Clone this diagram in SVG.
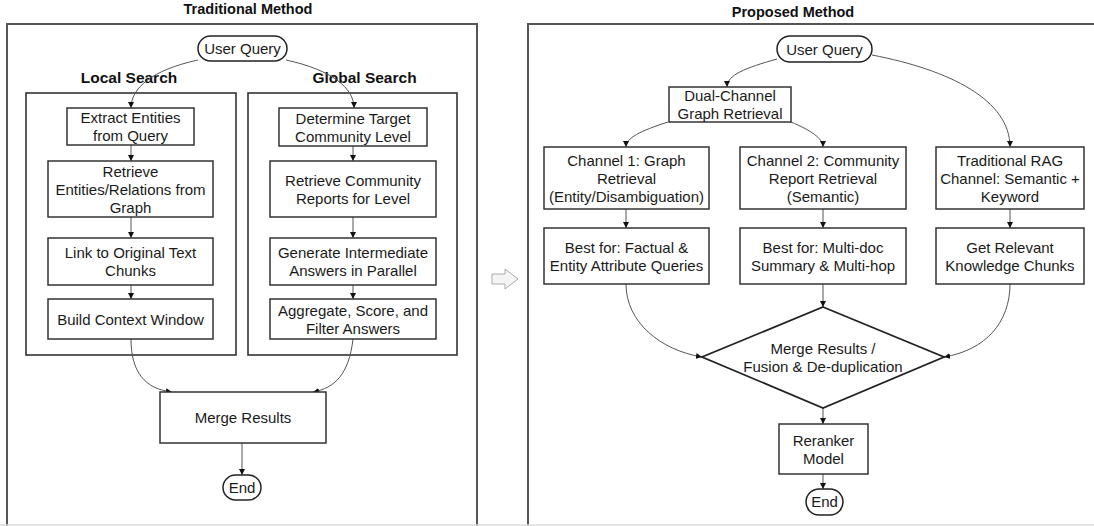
<svg xmlns="http://www.w3.org/2000/svg" width="1094" height="526" viewBox="0 0 1094 526">
<defs>
<marker id="ah" viewBox="0 0 10 10" refX="10" refY="5" markerWidth="6" markerHeight="6" markerUnits="userSpaceOnUse" orient="auto">
<path d="M0,0 L10,5 L0,10 z" fill="#111"/>
</marker>
<style>
.frame{fill:none;stroke:#555;stroke-width:2}
.sub{fill:none;stroke:#333;stroke-width:1.6}
.box{fill:#fff;stroke:#333;stroke-width:1.5}
.pill{fill:#fff;stroke:#222;stroke-width:1.5}
.dia{fill:#fff;stroke:#222;stroke-width:1.8}
.t{font-family:"Liberation Sans",Arial,sans-serif;font-size:15px;fill:#1a1a1a;text-anchor:middle}
.h{font-family:"Liberation Sans",Arial,sans-serif;font-weight:bold;font-size:14.5px;fill:#111;text-anchor:middle}
.h2{font-family:"Liberation Sans",Arial,sans-serif;font-weight:bold;font-size:15.5px;fill:#111;text-anchor:middle}
.c{fill:none;stroke:#555;stroke-width:1;marker-end:url(#ah)}
</style>
</defs>
<rect width="1094" height="526" fill="#fff"/>

<g id="frames">
<rect class="frame" x="7" y="24" width="470" height="520"/>
<rect class="frame" x="528" y="24" width="580" height="520"/>
<line x1="0" y1="525" x2="1094" y2="525" stroke="#ddd" stroke-width="1.5"/>
<text class="h" x="248" y="14">Traditional Method</text>
<text class="h" x="793" y="17">Proposed Method</text>
</g>

<g id="transition-arrow">
<path d="M492,274 H505 V269 L518,279 L505,289 V284 H492 Z" fill="#f4f4f4" stroke="#aaa" stroke-width="1"/>
</g>

<g id="local-search">
<rect class="sub" x="26" y="93" width="210" height="262"/>
<text class="h2" x="129" y="83">Local Search</text>
</g>
<g id="global-search">
<rect class="sub" x="248" y="93" width="209" height="262"/>
<text class="h2" x="364.5" y="83">Global Search</text>
</g>

<g id="connectors">
<path class="c" d="M198,60 C152,70 131,88 131,108"/>
<path class="c" d="M286,60 C332,70 354,88 354,108"/>
<path class="c" d="M131,145 V161"/>
<path class="c" d="M131,217 V238"/>
<path class="c" d="M131,285 V299"/>
<path class="c" d="M353,146 V161"/>
<path class="c" d="M353,217 V238"/>
<path class="c" d="M353,285 V299"/>
<path class="c" d="M131,339 C131,372 145,389 172,392"/>
<path class="c" d="M353,339 C349,374 335,388 313,392"/>
<path class="c" d="M242,443 V475"/>

<path class="c" d="M777,59 C745,68 727,75 727,87"/>
<path class="c" d="M668,122 C640,131 626,138 626,147"/>
<path class="c" d="M791,122 C810,130 823,138 823,147"/>
<path class="c" d="M872,55 C950,70 1010,100 1010,147"/>
<path class="c" d="M626,209 V228"/>
<path class="c" d="M823,209 V228"/>
<path class="c" d="M1010,209 V228"/>
<path class="c" d="M626,284 C626,322 660,350 702,357"/>
<path class="c" d="M823,284 V307"/>
<path class="c" d="M1010,284 C1010,322 986,350 944,357"/>
<path class="c" d="M823,408 V424"/>
<path class="c" d="M823,474 V489"/>
</g>

<g id="user-query-left">
<rect class="pill" x="198" y="36" width="89" height="25" rx="12.5"/>
<text class="t" x="242.5" y="54">User Query</text>
</g>
<g id="extract-entities">
<rect class="box" x="67" y="108" width="127" height="37"/>
<text class="t" x="130.5" y="123">Extract Entities</text>
<text class="t" x="130.5" y="141">from Query</text>
</g>
<g id="retrieve-entities">
<rect class="box" x="48" y="161" width="165" height="56"/>
<text class="t" x="130.5" y="177">Retrieve</text>
<text class="t" x="130.5" y="195">Entities/Relations from</text>
<text class="t" x="130.5" y="213">Graph</text>
</g>
<g id="link-text">
<rect class="box" x="48" y="238" width="165" height="47"/>
<text class="t" x="130.5" y="258">Link to Original Text</text>
<text class="t" x="130.5" y="276">Chunks</text>
</g>
<g id="build-context">
<rect class="box" x="48" y="299" width="165" height="40"/>
<text class="t" x="130.5" y="324.5">Build Context Window</text>
</g>
<g id="determine-level">
<rect class="box" x="279" y="108" width="148" height="38"/>
<text class="t" x="353" y="123.5">Determine Target</text>
<text class="t" x="353" y="141.5">Community Level</text>
</g>
<g id="retrieve-reports">
<rect class="box" x="270" y="161" width="166" height="56"/>
<text class="t" x="353" y="185.5">Retrieve Community</text>
<text class="t" x="353" y="203.5">Reports for Level</text>
</g>
<g id="generate-answers">
<rect class="box" x="270" y="238" width="166" height="47"/>
<text class="t" x="353" y="258">Generate Intermediate</text>
<text class="t" x="353" y="276">Answers in Parallel</text>
</g>
<g id="aggregate-answers">
<rect class="box" x="270" y="299" width="166" height="40"/>
<text class="t" x="353" y="315.5">Aggregate, Score, and</text>
<text class="t" x="353" y="333.5">Filter Answers</text>
</g>
<g id="merge-left">
<rect class="box" x="160" y="392" width="166" height="51"/>
<text class="t" x="243" y="423">Merge Results</text>
</g>
<g id="end-left">
<rect class="pill" x="223" y="475" width="38" height="25" rx="12.5"/>
<text class="t" x="242" y="493">End</text>
</g>

<g id="user-query-right">
<rect class="pill" x="777" y="36" width="95" height="26" rx="13"/>
<text class="t" x="824.5" y="54.5">User Query</text>
</g>
<g id="dual-channel">
<rect class="box" x="669" y="87" width="122" height="35"/>
<text class="t" x="730" y="101">Dual-Channel</text>
<text class="t" x="730" y="119">Graph Retrieval</text>
</g>
<g id="channel-1">
<rect class="box" x="544" y="147" width="165" height="62"/>
<text class="t" x="626.5" y="165.5">Channel 1: Graph</text>
<text class="t" x="626.5" y="183.5">Retrieval</text>
<text class="t" x="626.5" y="201.5">(Entity/Disambiguation)</text>
</g>
<g id="channel-2">
<rect class="box" x="740" y="147" width="166" height="62"/>
<text class="t" x="823" y="165.5">Channel 2: Community</text>
<text class="t" x="823" y="183.5">Report Retrieval</text>
<text class="t" x="823" y="201.5">(Semantic)</text>
</g>
<g id="traditional-rag">
<rect class="box" x="936" y="147" width="148" height="62"/>
<text class="t" x="1010" y="165.5">Traditional RAG</text>
<text class="t" x="1010" y="183.5">Channel: Semantic +</text>
<text class="t" x="1010" y="201.5">Keyword</text>
</g>
<g id="best-factual">
<rect class="box" x="544" y="228" width="165" height="56"/>
<text class="t" x="626.5" y="252.5">Best for: Factual &amp;</text>
<text class="t" x="626.5" y="270.5">Entity Attribute Queries</text>
</g>
<g id="best-multidoc">
<rect class="box" x="740" y="228" width="166" height="56"/>
<text class="t" x="823" y="252.5">Best for: Multi-doc</text>
<text class="t" x="823" y="270.5">Summary &amp; Multi-hop</text>
</g>
<g id="get-chunks">
<rect class="box" x="936" y="228" width="148" height="56"/>
<text class="t" x="1010" y="252.5">Get Relevant</text>
<text class="t" x="1010" y="270.5">Knowledge Chunks</text>
</g>
<g id="merge-fusion">
<polygon class="dia" points="823,307 944,357 823,408 702,357"/>
<text class="t" x="823" y="353.5">Merge Results /</text>
<text class="t" x="823" y="371.5">Fusion &amp; De-duplication</text>
</g>
<g id="reranker">
<rect class="box" x="779" y="424" width="89" height="50"/>
<text class="t" x="823.5" y="445.5">Reranker</text>
<text class="t" x="823.5" y="463.5">Model</text>
</g>
<g id="end-right">
<rect class="pill" x="806" y="489" width="37" height="26" rx="13"/>
<text class="t" x="824.5" y="507">End</text>
</g>
</svg>
